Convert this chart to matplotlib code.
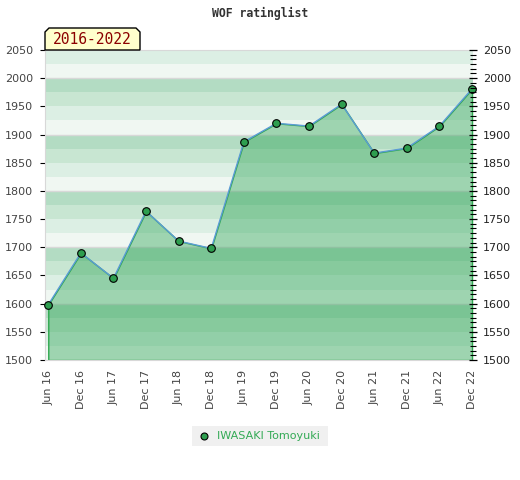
import numpy as np
import matplotlib.pyplot as plt
from matplotlib.patches import Polygon, Rectangle
from matplotlib.lines import Line2D
from matplotlib.ticker import MultipleLocator

# ==== データ ====
periods = ['Jun 16', 'Dec 16', 'Jun 17', 'Dec 17', 'Jun 18', 'Dec 18', 'Jun 19',
           'Dec 19', 'Jun 20', 'Dec 20', 'Jun 21', 'Dec 21', 'Jun 22', 'Dec 22']
ratings = [1598, 1690, 1645, 1764, 1711, 1698, 1887,
           1920, 1915, 1954, 1867, 1876, 1915, 1981]
player = 'IWASAKI Tomoyuki'
range_label = '2016-2022'
y_ticks = list(range(1500, 2051, 50))

# 背景の帯 (100 ごとに 4 段)
band_colors = ['#f0f7f2', '#dcefe4', '#c8e6d2', '#b3dcc3']

fig = plt.figure(figsize=(5.2, 4.8), dpi=100)
ax = fig.add_axes([45/520, 1-360/480, 428/520, 310/480])

x = np.arange(len(periods))
for lo in range(1500, 2050, 25):
    c = band_colors[(lo // 25) % 4]
    ax.axhspan(lo, lo + 25, color=c, lw=0, zorder=0)
for g in range(1600, 2050, 100):
    ax.axhline(g, color='#d8d8d8', lw=1, zorder=0.5)

ax.fill_between(x, ratings, 1500, facecolor=(42/255, 162/255, 83/255, 0.41),
                edgecolor='#2fa84f', lw=1, zorder=2)
ax.plot(x, ratings, color='#5b9bd5', lw=1.0, zorder=3)
ax.plot(x, ratings, 'o', ms=5.5, mfc='#2e9e4f', mec='black', mew=0.8, zorder=4,
        clip_on=False)

ax.set_xlim(-0.1, len(periods) - 1 + 0.03)
ax.set_ylim(1500, 2050)
ax.set_xticks(x)
ax.set_xticklabels(periods, rotation=90, fontsize=8, color='#444444')
ax.tick_params(axis='x', length=0, pad=7)
ax.set_yticks(y_ticks)
ax.set_yticklabels([str(v) for v in y_ticks], fontsize=8, color='#444444')
ax.tick_params(axis='y', which='both', left=False, right=False, pad=5)

for s in ['left', 'bottom', 'top']:
    ax.spines[s].set_color('#d8d8d8')
ax.spines['right'].set_visible(False)

# 右軸
ax2 = ax.twinx()
ax2.set_ylim(1500, 2050)
ax2.set_yticks(y_ticks)
ax2.yaxis.set_minor_locator(MultipleLocator(50 / 6))
ax2.set_yticklabels([str(v) for v in y_ticks], fontsize=8, color='#222222')
ax2.tick_params(axis='y', which='major', direction='inout', length=6, width=0.9,
                color='black', pad=4)
ax2.tick_params(axis='y', which='minor', direction='inout', length=4, width=0.8,
                color='black')
for s in ax2.spines.values():
    s.set_visible(False)

# タイトル
fig.text(0.5, 1-13/480, 'WOF ratinglist', ha='center', va='center',
         fontsize=8.3, family='DejaVu Sans Mono', weight='bold', color='#333333')

# 期間ラベル
x0, x1 = 45/520, 140/520
y0, y1 = 1-50/480, 1-28/480
cx, cy = 4/520, 4/480
poly = Polygon([(x0, y0), (x0, y1-cy), (x0+cx, y1), (x1-cx, y1), (x1, y1-cy), (x1, y0)],
               closed=True, transform=fig.transFigure, facecolor='#ffffcc',
               edgecolor='black', lw=1, zorder=10)
fig.patches.append(poly)
fig.text((x0+x1)/2, (y0+y1)/2 - 0.002, range_label, ha='center', va='center',
         fontsize=10.5, family='DejaVu Sans Mono', color='#8b0000', zorder=11)

# 凡例
fig.patches.append(Rectangle((192/520, 1-446/480), 136/520, 20/480,
                             transform=fig.transFigure, facecolor='#f0f0f0',
                             edgecolor='none'))
fig.lines.append(Line2D([204/520], [1-436/480], marker='o', ms=5, mfc='#2e9e4f',
                        mec='black', mew=0.8, transform=fig.transFigure))
fig.text(217/520, 1-436/480, player, ha='left', va='center', fontsize=8,
         color='#33aa55')

fig.savefig('out.png', dpi=100)
